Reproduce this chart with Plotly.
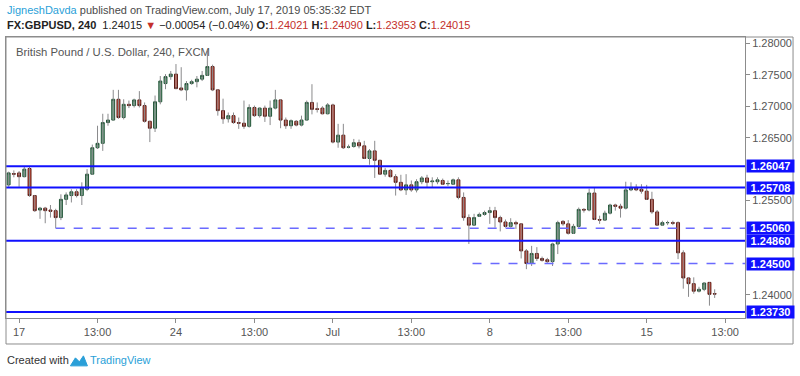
import plotly.graph_objects as go

# ---------------- data (GBPUSD, 4H, FXCM) ----------------
opens = [1.2575,1.2593,1.2594,1.2588,1.2601,1.2558,1.2535,1.2538,1.2535,1.2534,
         1.2523,1.2552,1.2558,1.2564,1.2558,1.2568,1.2592,1.2634,1.2641,1.2674,
         1.2678,1.2711,1.2682,1.2703,1.2701,1.2710,1.2701,1.2676,1.2665,1.2707,
         1.2736,1.2747,1.2751,1.2729,1.2726,1.2736,1.2739,1.2743,1.2749,1.2763,
         1.2726,1.2693,1.2680,1.2685,1.2674,1.2673,1.2668,1.2698,1.2685,1.2697,
         1.2684,1.2697,1.2710,1.2678,1.2669,1.2676,1.2670,1.2678,1.2706,1.2696,
         1.2697,1.2688,1.2702,1.2643,1.2654,1.2635,1.2636,1.2642,1.2637,1.2617,
         1.2629,1.2614,1.2592,1.2598,1.2588,1.2579,1.2567,1.2575,1.2567,1.2580,
         1.2586,1.2580,1.2580,1.2582,1.2577,1.2576,1.2583,1.2555,1.2523,1.2511,
         1.2525,1.2528,1.2531,1.2534,1.2523,1.2516,1.2509,1.2515,1.2513,1.2470,
         1.2450,1.2466,1.2458,1.2456,1.2453,1.2481,1.2517,1.2513,1.2498,1.2509,
         1.2536,1.2535,1.2562,1.2520,1.2519,1.2530,1.2543,1.2541,1.2538,1.2567,
         1.2571,1.2568,1.2565,1.2552,1.2532,1.2511,1.2515,1.2515,1.2515,1.2467,
         1.2427,1.2418,1.2406,1.2409,1.2420,1.24021]
highs = [1.2596,1.2598,1.2597,1.2604,1.2604,1.2559,1.2540,1.2540,1.2543,1.2537,
         1.2560,1.2563,1.2568,1.2568,1.2579,1.2600,1.2639,1.2669,1.2688,1.2688,
         1.2726,1.2726,1.2711,1.2709,1.2712,1.2724,1.2706,1.2677,1.2717,1.2748,
         1.2751,1.2756,1.2767,1.2762,1.2740,1.2742,1.2748,1.2756,1.2788,1.2766,
         1.2727,1.2712,1.2690,1.2690,1.2682,1.2709,1.2703,1.2701,1.2698,1.2701,
         1.2709,1.2726,1.2711,1.2682,1.2679,1.2678,1.2685,1.2709,1.2735,1.2706,
         1.2700,1.2705,1.2704,1.2672,1.2672,1.2639,1.2648,1.2647,1.2645,1.2632,
         1.2645,1.2615,1.2602,1.2600,1.2592,1.2591,1.2592,1.2582,1.2584,1.2589,
         1.2591,1.2587,1.2587,1.2585,1.2582,1.2585,1.2587,1.2563,1.2528,1.2529,
         1.2531,1.2534,1.2540,1.2540,1.2526,1.2520,1.2522,1.2518,1.2514,1.2473,
         1.2478,1.2476,1.2461,1.2459,1.2483,1.2518,1.2519,1.2519,1.2513,1.2539,
         1.2538,1.2569,1.2571,1.2526,1.2534,1.2545,1.2545,1.2545,1.2580,1.2579,
         1.2576,1.2576,1.2575,1.2564,1.2535,1.2518,1.2518,1.2518,1.2517,1.2471,
         1.2428,1.2428,1.2413,1.2420,1.2420,1.24090]
lows = [1.2572,1.2587,1.2572,1.2587,1.2556,1.2532,1.2521,1.2514,1.2523,1.2506,
        1.2519,1.2543,1.2547,1.2555,1.2543,1.2565,1.2591,1.2632,1.2629,1.2669,
        1.2677,1.2680,1.2679,1.2697,1.2698,1.2698,1.2674,1.2643,1.2659,1.2703,
        1.2727,1.2742,1.2727,1.2724,1.2709,1.2734,1.2730,1.2740,1.2748,1.2724,
        1.2685,1.2672,1.2674,1.2672,1.2664,1.2664,1.2666,1.2683,1.2682,1.2675,
        1.2670,1.2695,1.2665,1.2664,1.2664,1.2668,1.2668,1.2677,1.2687,1.2690,
        1.2687,1.2687,1.2641,1.2634,1.2632,1.2633,1.2634,1.2633,1.2616,1.2607,
        1.2586,1.2591,1.2588,1.2587,1.2558,1.2565,1.2559,1.2564,1.2563,1.2576,
        1.2570,1.2571,1.2576,1.2575,1.2573,1.2575,1.2552,1.2518,1.2481,1.2510,
        1.2524,1.2526,1.2513,1.2507,1.2501,1.2507,1.2507,1.2505,1.2458,1.2441,
        1.2446,1.2454,1.2453,1.2451,1.2446,1.2465,1.2510,1.2496,1.2497,1.2507,
        1.2531,1.2533,1.2519,1.2513,1.2518,1.2528,1.2534,1.2523,1.2536,1.2565,
        1.2565,1.2561,1.2551,1.2529,1.2510,1.2510,1.2511,1.2511,1.2457,1.2410,
        1.2397,1.2402,1.2404,1.2406,1.2383,1.23953]
closes = [1.2594,1.2592,1.2588,1.2600,1.2558,1.2534,1.2538,1.2534,1.2533,1.2523,
          1.2552,1.2559,1.2564,1.2558,1.2570,1.2592,1.2634,1.2641,1.2674,1.2678,
          1.2711,1.2682,1.2703,1.2701,1.2710,1.2701,1.2676,1.2665,1.2707,1.2740,
          1.2747,1.2751,1.2728,1.2726,1.2736,1.2739,1.2743,1.2749,1.2763,1.2726,
          1.2693,1.2680,1.2685,1.2674,1.2673,1.2668,1.2698,1.2685,1.2697,1.2684,
          1.2697,1.2710,1.2678,1.2669,1.2677,1.2670,1.2678,1.2706,1.2695,1.2695,
          1.2688,1.2702,1.2643,1.2654,1.2634,1.2635,1.2642,1.2637,1.2617,1.2629,
          1.2614,1.2592,1.2598,1.2588,1.2579,1.2567,1.2575,1.2567,1.2580,1.2586,
          1.2579,1.2581,1.2583,1.2576,1.2577,1.2583,1.2555,1.2523,1.2511,1.2523,
          1.2528,1.2531,1.2534,1.2523,1.2516,1.2509,1.2515,1.2513,1.2470,1.2450,
          1.2466,1.2458,1.2455,1.2453,1.2481,1.2515,1.2513,1.2498,1.2509,1.2536,
          1.2535,1.2562,1.2520,1.2519,1.2530,1.2543,1.2541,1.2538,1.2567,1.2571,
          1.2567,1.2565,1.2552,1.2532,1.2511,1.2515,1.2515,1.2514,1.2467,1.2427,
          1.2418,1.2406,1.2409,1.2419,1.2401,1.24015]

tick_index = [2, 17, 32, 47, 62, 77, 92, 107, 122, 137]
tick_labels = ["17", "13:00", "24", "13:00", "Jul", "13:00", "8", "13:00", "15", "13:00"]
# price ticks that are not hidden behind the level labels
price_ticks = [1.24, 1.255, 1.265, 1.27, 1.275, 1.28]

solid_levels = [1.26047, 1.25708, 1.24860, 1.23730]
dashed_levels = [1.25060, 1.24500]
dashed_start = [9, 88.7]

# ---------------- figure ----------------
n = len(opens)
xs = list(range(n))
X_MAX = 140.8
UP_FILL, UP_LINE = "#6ba583", "#225437"
DN_FILL, DN_LINE = "#d75442", "#5b1a13"
WICK = "#8a8a8c"
BLUE = "#1010ff"
DBLUE = "#6a6aff"
GRAY = "#8c8c8c"
TXT = "#4a4a4a"
FONT = "Liberation Sans"

wx, wy = [], []
for i in xs:
    wx += [i, i, None]
    wy += [lows[i], highs[i], None]

fig = go.Figure()
fig.add_trace(go.Scatter(x=wx, y=wy, mode="lines", line=dict(color=WICK, width=1),
                         hoverinfo="skip", showlegend=False))
fig.add_trace(go.Candlestick(
    x=xs, open=opens, close=closes,
    high=[max(o, c) for o, c in zip(opens, closes)],
    low=[min(o, c) for o, c in zip(opens, closes)],
    increasing=dict(fillcolor=UP_FILL, line=dict(color=UP_LINE, width=1)),
    decreasing=dict(fillcolor=DN_FILL, line=dict(color=DN_LINE, width=1)),
    whiskerwidth=0, showlegend=False))

shapes = []
for lv in solid_levels:
    shapes.append(dict(type="line", xref="x", yref="y", x0=-0.5, x1=X_MAX, y0=lv, y1=lv,
                       line=dict(color=BLUE, width=2), layer="above"))
for lv, s in zip(dashed_levels, dashed_start):
    shapes.append(dict(type="line", xref="x", yref="y", x0=s, x1=X_MAX, y0=lv, y1=lv,
                       line=dict(color=DBLUE, width=1.5, dash="dash"), layer="above"))
# outer frame
shapes.append(dict(type="rect", xref="paper", yref="paper", x0=0, x1=1.065, y0=-0.0925, y1=1,
                   line=dict(color=GRAY, width=1), layer="above"))

annotations = []
for lv in solid_levels + dashed_levels:
    annotations.append(dict(xref="paper", yref="y", x=1.0, y=lv, xanchor="left", yanchor="middle",
                            xshift=1, text="<b>%.5f</b>" % lv, showarrow=False,
                            font=dict(family=FONT, size=11, color="white"),
                            bgcolor=BLUE, width=45, height=10, borderpad=1, align="center"))

annotations.append(dict(xref="paper", yref="paper", x=-0.0014, y=1.096, xanchor="left", yanchor="middle",
                        showarrow=False, font=dict(family=FONT, size=11, color=TXT),
                        text="<span style='color:#2a9fd8'>JigneshDavda</span> published on TradingView.com, July 17, 2019 05:35:32 EDT"))
red = "#c4302b"
annotations.append(dict(xref="paper", yref="paper", x=-0.0014, y=1.0427, xanchor="left", yanchor="middle",
                        showarrow=False, font=dict(family=FONT, size=11, color="#222"),
                        text=("<b>FX:GBPUSD, 240</b>  1.24015 <span style='color:%s'>▼</span> −0.00054 (−0.04%%) "
                              "<b>O:</b><span style='color:%s'>1.24021</span> <b>H:</b><span style='color:%s'>1.24090</span> "
                              "<b>L:</b><span style='color:%s'>1.23953</span> <b>C:</b><span style='color:%s'>1.24015</span>")
                        % (red, red, red, red, red)))
annotations.append(dict(xref="paper", yref="paper", x=0.0108, y=0.9466, xanchor="left", yanchor="middle",
                        showarrow=False, font=dict(family=FONT, size=11.3, color="#555"),
                        text="British Pound / U.S. Dollar, 240, FXCM"))
annotations.append(dict(xref="paper", yref="paper", x=-0.0014, y=-0.149, xanchor="left", yanchor="middle",
                        showarrow=False, font=dict(family=FONT, size=11, color="#333"),
                        text="Created with"))
annotations.append(dict(xref="paper", yref="paper", x=0.111, y=-0.149, xanchor="left", yanchor="middle",
                        showarrow=False, font=dict(family=FONT, size=11, color="#2a9fd8"),
                        text="TradingView"))
# small TradingView logo
shapes.append(dict(type="path", xref="paper", yref="paper", xsizemode="pixel", ysizemode="pixel",
                   xanchor=0.098, yanchor=-0.149,
                   path="M -8 -6 L -3 2 L 1 -2 L 5 4 L 9 -6 Z",
                   fillcolor="#2a9fd8", line=dict(color="#2a9fd8", width=1)))

fig.update_layout(
    width=800, height=376,
    margin=dict(l=6, r=55, t=37, b=58),
    paper_bgcolor="white", plot_bgcolor="white",
    shapes=shapes, annotations=annotations,
    showlegend=False, boxgap=0.2,
    xaxis=dict(range=[-0.5, X_MAX], showgrid=False, zeroline=False, showline=True, mirror=True,
               linecolor=GRAY, linewidth=1, ticks="outside", ticklen=4, tickcolor=GRAY,
               tickvals=tick_index, ticktext=tick_labels,
               tickfont=dict(family=FONT, size=11, color="#555"),
               rangeslider=dict(visible=False), fixedrange=True),
    yaxis=dict(range=[1.23634, 1.2810], side="right", showgrid=False, zeroline=False,
               showline=True, mirror=True, linecolor=GRAY, linewidth=1,
               ticks="outside", ticklen=4, tickcolor=GRAY,
               tickvals=price_ticks, ticktext=["%.5f" % v for v in price_ticks],
               tickfont=dict(family=FONT, size=11, color="#555"), fixedrange=True),
)

fig.write_html("out.html", config={"displayModeBar": False},
               post_script="document.body.style.margin='0px';document.body.style.overflow='hidden';")
